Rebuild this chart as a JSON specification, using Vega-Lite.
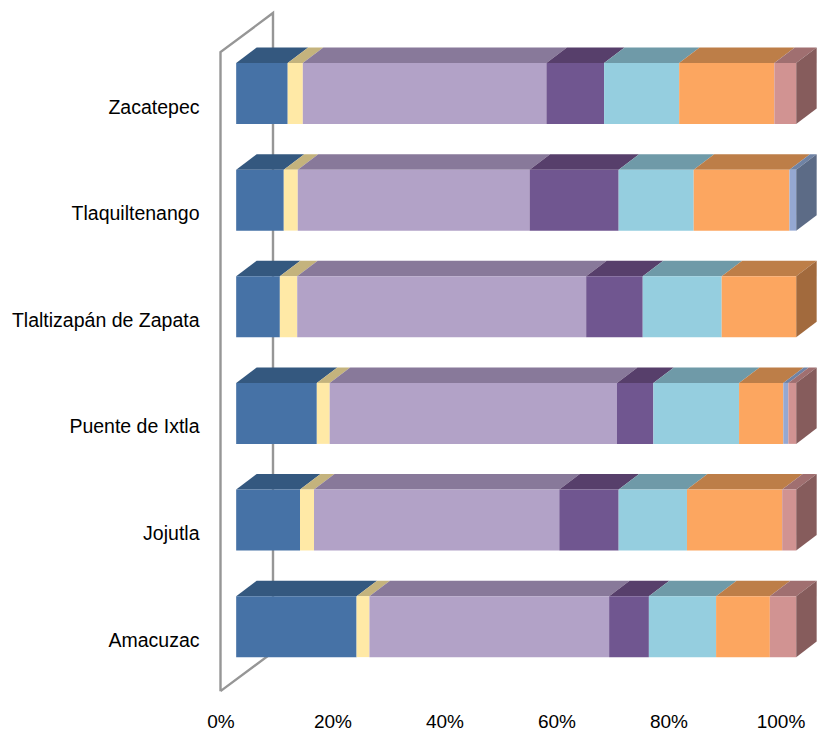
{
"$schema":"https://vega.github.io/schema/vega-lite/v6.json",
"width":817,"height":705,"padding":{"left":0,"top":0,"right":0,"bottom":26},"autosize":{"type":"none"},"background":"white",
"config":{"view":{"stroke":null},"font":"Liberation Sans"},
"datasets":{
"shares":[
{"town":"Zacatepec","ord":1,"share":9.2},{"town":"Zacatepec","ord":2,"share":2.7},{"town":"Zacatepec","ord":3,"share":43.5},{"town":"Zacatepec","ord":4,"share":10.3},{"town":"Zacatepec","ord":5,"share":13.4},{"town":"Zacatepec","ord":6,"share":17.0},{"town":"Zacatepec","ord":8,"share":3.9},
{"town":"Tlaquiltenango","ord":1,"share":8.5},{"town":"Tlaquiltenango","ord":2,"share":2.5},{"town":"Tlaquiltenango","ord":3,"share":41.4},{"town":"Tlaquiltenango","ord":4,"share":15.9},{"town":"Tlaquiltenango","ord":5,"share":13.4},{"town":"Tlaquiltenango","ord":6,"share":17.1},{"town":"Tlaquiltenango","ord":7,"share":1.2},
{"town":"Tlaltizapán de Zapata","ord":1,"share":7.8},{"town":"Tlaltizapán de Zapata","ord":2,"share":3.1},{"town":"Tlaltizapán de Zapata","ord":3,"share":51.6},{"town":"Tlaltizapán de Zapata","ord":4,"share":10.1},{"town":"Tlaltizapán de Zapata","ord":5,"share":14.1},{"town":"Tlaltizapán de Zapata","ord":6,"share":13.3},
{"town":"Puente de Ixtla","ord":1,"share":14.4},{"town":"Puente de Ixtla","ord":2,"share":2.3},{"town":"Puente de Ixtla","ord":3,"share":51.3},{"town":"Puente de Ixtla","ord":4,"share":6.5},{"town":"Puente de Ixtla","ord":5,"share":15.3},{"town":"Puente de Ixtla","ord":6,"share":7.9},{"town":"Puente de Ixtla","ord":7,"share":0.9},{"town":"Puente de Ixtla","ord":8,"share":1.4},
{"town":"Jojutla","ord":1,"share":11.4},{"town":"Jojutla","ord":2,"share":2.5},{"town":"Jojutla","ord":3,"share":43.8},{"town":"Jojutla","ord":4,"share":10.6},{"town":"Jojutla","ord":5,"share":12.2},{"town":"Jojutla","ord":6,"share":17.0},{"town":"Jojutla","ord":8,"share":2.5},
{"town":"Amacuzac","ord":1,"share":21.5},{"town":"Amacuzac","ord":2,"share":2.3},{"town":"Amacuzac","ord":3,"share":42.8},{"town":"Amacuzac","ord":4,"share":7.1},{"town":"Amacuzac","ord":5,"share":12.0},{"town":"Amacuzac","ord":6,"share":9.6},{"town":"Amacuzac","ord":8,"share":4.7}
],
"wall":[{"n":1,"wx":0,"wy":-0.605},{"n":2,"wx":0,"wy":5.389},{"n":3,"wx":9.375,"wy":5.755},{"n":4,"wx":9.375,"wy":-0.24},{"n":5,"wx":0,"wy":-0.605}]
},
"resolve":{"scale":{"color":"independent"}},
"layer":[
{"data":{"name":"wall"},
 "mark":{"type":"line","color":"#969696","strokeWidth":2.4,"interpolate":"linear"},
 "encoding":{
  "x":{"field":"wx","type":"quantitative","title":null,"scale":{"domain":[-39.375,106.52],"nice":false,"zero":false},
   "axis":{"values":[0,20,40,60,80,100],"labelExpr":"datum.value + '%'","domain":false,"ticks":false,"grid":false,"labelFontSize":19,"labelColor":"#000000","labelPadding":7,"labelFlush":false,"labelOverlap":false,"labelFont":"Liberation Sans"}},
  "y":{"field":"wy","type":"quantitative","title":null,"scale":{"domain":[-0.735,5.877],"nice":false,"zero":false},"axis":null},
  "order":{"field":"n","type":"quantitative"}
 }},
{"data":{"name":"shares"},
 "transform":[
  {"stack":"share","groupby":["town"],"sort":[{"field":"ord","order":"ascending"}],"as":["s0","s1"]},
  {"calculate":"indexof(['Amacuzac','Jojutla','Puente de Ixtla','Tlaltizapán de Zapata','Tlaquiltenango','Zacatepec'],datum.town)","as":"k"},
  {"calculate":"[0,1]","as":"c"},{"flatten":["c"]},
  {"calculate":"datum.s0+2.8+3.66*datum.c","as":"tx0"},
  {"calculate":"datum.s1+2.8+3.66*datum.c","as":"tx1"},
  {"calculate":"datum.k+0.286+0.1454*datum.c","as":"ty"}
 ],
 "mark":{"type":"area","orient":"horizontal","interpolate":"linear"},
 "encoding":{
  "x":{"field":"tx0","type":"quantitative","title":null},
  "x2":{"field":"tx1"},
  "y":{"field":"ty","type":"quantitative","title":null},
  "detail":{"field":"town"},
  "color":{"field":"ord","type":"nominal","legend":null,"scale":{"domain":[1,2,3,4,5,6,7,8],"range":["#34587F","#C4B37D","#88799A","#573F6B","#6F9AA8","#BD7E48","#6F83A5","#A06F70"]}}
 }},
{"data":{"name":"shares"},
 "transform":[
  {"stack":"share","groupby":["town"],"sort":[{"field":"ord","order":"ascending"}],"as":["s0","s1"]},
  {"filter":"datum.s1>99.9"},
  {"calculate":"indexof(['Amacuzac','Jojutla','Puente de Ixtla','Tlaltizapán de Zapata','Tlaquiltenango','Zacatepec'],datum.town)","as":"k"},
  {"calculate":"[0,1]","as":"c"},{"flatten":["c"]},
  {"calculate":"datum.s1+2.8+3.66*datum.c","as":"sx"},
  {"calculate":"datum.k-0.286+0.1454*datum.c","as":"sy0"},
  {"calculate":"datum.k+0.286+0.1454*datum.c","as":"sy1"}
 ],
 "mark":{"type":"area","orient":"vertical","interpolate":"linear"},
 "encoding":{
  "x":{"field":"sx","type":"quantitative","title":null},
  "y":{"field":"sy0","type":"quantitative","title":null},
  "y2":{"field":"sy1"},
  "detail":{"field":"town"},
  "color":{"field":"ord","type":"nominal","legend":null,"scale":{"domain":[6,7,8],"range":["#A26A3D","#5C6B86","#865C5C"]}}
 }},
{"data":{"name":"shares"},
 "transform":[
  {"stack":"share","groupby":["town"],"sort":[{"field":"ord","order":"ascending"}],"as":["s0","s1"]},
  {"calculate":"indexof(['Amacuzac','Jojutla','Puente de Ixtla','Tlaltizapán de Zapata','Tlaquiltenango','Zacatepec'],datum.town)","as":"k"},
  {"calculate":"datum.s0+2.8","as":"fx0"},
  {"calculate":"datum.s1+2.8","as":"fx1"},
  {"calculate":"datum.k-0.286","as":"fy0"},
  {"calculate":"datum.k+0.286","as":"fy1"}
 ],
 "mark":{"type":"rect"},
 "encoding":{
  "x":{"field":"fx0","type":"quantitative","title":null},
  "x2":{"field":"fx1"},
  "y":{"field":"fy0","type":"quantitative","title":null},
  "y2":{"field":"fy1"},
  "color":{"field":"ord","type":"nominal","legend":null,"scale":{"domain":[1,2,3,4,5,6,7,8],"range":["#4672A6","#FFE9A6","#B2A2C7","#705690","#95CEDF","#FCA660","#95A8D2","#D19392"]}}
 }},
{"data":{"name":"shares"},
 "transform":[
  {"filter":"datum.ord==1"},
  {"calculate":"indexof(['Amacuzac','Jojutla','Puente de Ixtla','Tlaltizapán de Zapata','Tlaquiltenango','Zacatepec'],datum.town)","as":"k"}
 ],
 "mark":{"type":"text","align":"right","baseline":"middle","dx":-21,"dy":14,"fontSize":19.5,"font":"Liberation Sans","color":"#000000"},
 "encoding":{
  "x":{"datum":0,"type":"quantitative"},
  "y":{"field":"k","type":"quantitative","title":null},
  "text":{"field":"town"}
 }}
]
}
